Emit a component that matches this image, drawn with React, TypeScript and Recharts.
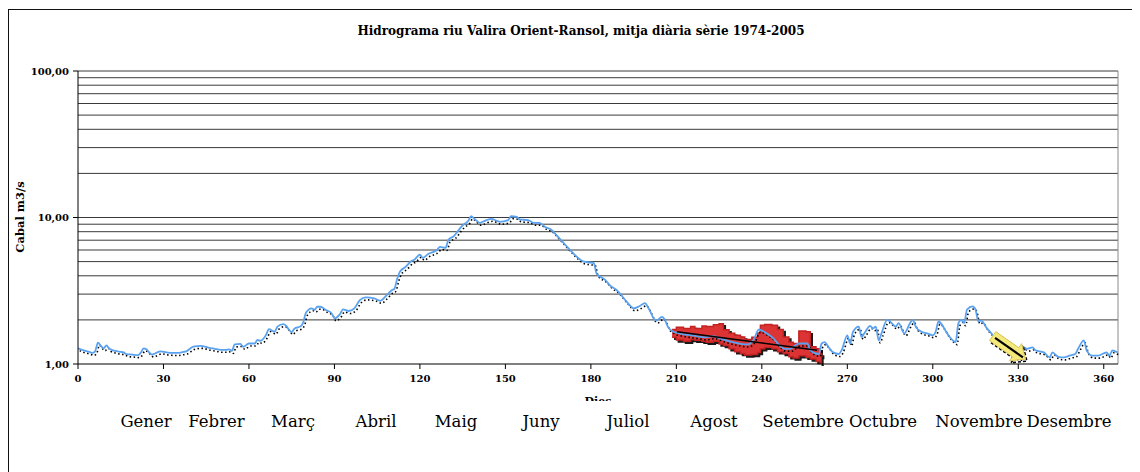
import React from 'react';
import { ComposedChart, Line, Area, XAxis, YAxis, ReferenceLine } from 'recharts';

// ---- data ----
const flowDays = [
  0, 2, 4, 5, 6, 7, 8, 9, 10, 11, 13, 15, 16, 17, 19, 21, 22, 23, 24, 25, 26, 27, 29, 31, 33, 35, 37, 38, 40, 41,
  43, 46, 48, 50, 52, 53, 54, 55, 57, 58, 60, 62, 63, 64, 66, 67, 69, 70, 72, 73, 74, 75, 76, 78, 79, 80, 82, 83, 84, 85,
  87, 89, 90, 92, 93, 95, 97, 99, 101, 104, 106, 108, 110, 111, 112, 113, 115, 117, 118, 120, 121, 123, 125, 126, 127, 129, 130, 132, 134, 135,
  137, 138, 139, 141, 142, 145, 147, 148, 151, 152, 154, 155, 158, 160, 162, 164, 166, 168, 170, 172, 174, 177, 179, 181, 182, 185, 187, 189, 191, 193,
  195, 197, 199, 200, 201, 202, 203, 205, 206, 207, 209, 211, 214, 217, 220, 223, 226, 229, 232, 235, 237, 239, 241, 244, 246, 248, 250, 252, 253, 256,
  257, 260, 261, 262, 263, 265, 267, 268, 270, 271, 272, 274, 275, 276, 278, 279, 280, 281, 282, 284, 285, 287, 288, 290, 292, 293, 294, 296, 298, 300,
  301, 302, 304, 305, 307, 308, 309, 310, 311, 312, 314, 315, 316, 317, 319, 321, 322, 324, 326, 328, 330, 331, 332, 333, 335, 336, 339, 341, 342, 344,
  346, 348, 350, 351, 353, 354, 356, 358, 361, 362, 363, 364, 365,
];
const flowValues = [
  1.28, 1.24, 1.21, 1.19, 1.22, 1.4, 1.33, 1.28, 1.34, 1.27, 1.23, 1.21, 1.2, 1.17, 1.16, 1.15, 1.19, 1.28, 1.26, 1.2, 1.16, 1.18, 1.22, 1.2, 1.19, 1.19, 1.21, 1.22, 1.3, 1.32,
  1.33, 1.29, 1.27, 1.25, 1.25, 1.26, 1.23, 1.36, 1.37, 1.31, 1.38, 1.38, 1.46, 1.44, 1.58, 1.73, 1.66, 1.8, 1.87, 1.83, 1.72, 1.65, 1.75, 1.8, 1.91, 2.24, 2.4, 2.35, 2.46, 2.46,
  2.34, 2.22, 2.05, 2.2, 2.36, 2.3, 2.4, 2.74, 2.85, 2.8, 2.7, 2.9, 3.18, 3.25, 3.8, 4.27, 4.6, 5.05, 5.15, 5.57, 5.3, 5.65, 5.85, 6.0, 6.3, 6.2, 7.05, 7.5, 8.4, 8.85,
  9.5, 10.2, 9.85, 9.2, 9.35, 9.8, 9.5, 9.35, 9.6, 10.2, 10.1, 9.7, 9.6, 9.2, 9.2, 8.6, 8.3, 7.55, 6.85, 6.2, 5.65, 5.05, 4.95, 4.9, 4.15, 3.75, 3.4, 3.2, 2.9, 2.6,
  2.4, 2.48, 2.6, 2.45, 2.25, 2.05, 1.98, 2.1, 2.0, 1.8, 1.66, 1.62, 1.58, 1.55, 1.52, 1.55, 1.48, 1.42, 1.38, 1.36, 1.45, 1.72, 1.65, 1.5, 1.35, 1.27, 1.27, 1.35, 1.38, 1.38,
  1.24, 1.17, 1.38, 1.41, 1.34, 1.2, 1.17, 1.24, 1.57, 1.38, 1.66, 1.8, 1.53, 1.62, 1.82, 1.75, 1.8, 1.45, 1.62, 2.0, 1.95, 1.8, 1.9, 1.62, 1.9, 2.0, 1.8, 1.66, 1.62, 1.57,
  1.66, 1.95, 1.75, 1.62, 1.45, 1.41, 1.9, 2.0, 1.9, 2.35, 2.47, 2.35, 1.95, 1.98, 1.75, 1.57, 1.45, 1.35, 1.25, 1.17, 1.1, 1.12, 1.3, 1.27, 1.3, 1.24, 1.2, 1.11, 1.2, 1.12,
  1.11, 1.14, 1.17, 1.27, 1.45, 1.24, 1.14, 1.14, 1.2, 1.14, 1.24, 1.22, 1.2,
];

// highlighted (red) band, drawn over the summer recession
const bandDays = [208.5, 210, 212.5, 215, 216.5, 219, 220.5, 223, 225, 226.5, 228.5, 230.5, 232.5, 234, 236.5, 238.5, 239.5, 241, 243.5, 245.5, 247.5, 249.5, 251, 253, 255.5, 257, 259, 260.5, 261];
const bandLow = [1.52, 1.46, 1.43, 1.47, 1.45, 1.43, 1.41, 1.43, 1.37, 1.34, 1.27, 1.21, 1.18, 1.15, 1.16, 1.2, 1.27, 1.3, 1.27, 1.21, 1.18, 1.12, 1.1, 1.14, 1.11, 1.08, 1.04, 1.0, 1.0];
const bandHigh = [1.72, 1.78, 1.75, 1.8, 1.75, 1.82, 1.8, 1.85, 1.88, 1.71, 1.62, 1.57, 1.53, 1.47, 1.52, 1.62, 1.84, 1.86, 1.84, 1.72, 1.53, 1.41, 1.38, 1.68, 1.66, 1.31, 1.27, 1.17, 1.11];

// trend line across the red band: [day, value]
const trendStart = [210.2, 1.66];
const trendEnd = [259.4, 1.24];
// yellow arrow: [day, value]
const arrowTail = [321, 1.55];
const arrowTip = [332.5, 1.08];

const xTicks = [0, 30, 60, 90, 120, 150, 180, 210, 240, 270, 300, 330, 360];
const yTicks = [1, 10, 100];
const gridValues = [2, 3, 4, 5, 6, 7, 8, 9, 10, 20, 30, 40, 50, 60, 70, 80, 90, 100];

const titleText = 'Hidrograma riu Valira Orient-Ransol, mitja diària sèrie 1974-2005';
const yAxisTitle = 'Cabal m3/s';
const xAxisTitle = 'Dies';
const monthLabels = ['Gener', 'Febrer', 'Març', 'Abril', 'Maig', 'Juny', 'Juliol', 'Agost', 'Setembre', 'Octubre', 'Novembre', 'Desembre'];

// ---- layout (container coordinates) ----
const monthCenters = [138, 208.5, 285, 368, 448, 533, 620, 706, 795, 875, 971, 1061];

const flowData = flowDays.map((d, i) => ({ d, q: flowValues[i] }));
const bandData = bandDays.map((d, i) => ({ d, r: [bandLow[i], bandHigh[i]] }));

const serif = 'DejaVu Serif, serif';

const ArrowShape = (props: any) => {
  const { x1, y1, x2, y2 } = props;
  if (x1 == null) return null;
  const dx = x2 - x1;
  const dy = y2 - y1;
  const len = Math.hypot(dx, dy) || 1;
  const ux = dx / len;
  const uy = dy / len;
  const nx = -uy;
  const ny = ux;
  const head = 12;
  const sw = 5.5;
  const hw = 10.5;
  const bx = x2 - ux * head;
  const by = y2 - uy * head;
  const pts = [
    [x1 + nx * sw, y1 + ny * sw],
    [bx + nx * sw, by + ny * sw],
    [bx + nx * hw, by + ny * hw],
    [x2, y2],
    [bx - nx * hw, by - ny * hw],
    [bx - nx * sw, by - ny * sw],
    [x1 - nx * sw, y1 - ny * sw],
  ];
  const str = pts.map((p) => p.join(',')).join(' ');
  const shadow = pts.map((p) => `${p[0] + 1.5},${p[1] + 2}`).join(' ');
  return (
    <g>
      <polygon points={shadow} fill="none" stroke="#000" strokeWidth={1.6} strokeDasharray="3 2" />
      <polygon points={str} fill="#f6e97c" stroke="#d8c65a" strokeWidth={1} />
      <line x1={x1 + ux * 3} y1={y1 + uy * 3} x2={x2 - ux * 3} y2={y2 - uy * 3} stroke="#000" strokeWidth={2.2} />
    </g>
  );
};

export default function App() {
  return (
    <div style={{ position: 'relative', width: 1132, height: 464 }}>
      <style>{`
        .flow-shadow { transform: translate(1.5px, 2.5px); }
        .band-shadow { transform: translate(2px, 2px); }
      `}</style>
      <div
        style={{
          position: 'absolute',
          left: 0,
          top: 1,
          width: 1140,
          height: 480,
          borderLeft: '1px solid #111',
          borderTop: '1px solid #111',
        }}
      />
      <div style={{ position: 'absolute', left: 0, top: 0 }}>
        <ComposedChart width={1132} height={400} margin={{ top: 63, right: 22, left: 0, bottom: 14 }}>
          <XAxis
            type="number"
            dataKey="d"
            domain={[0, 365]}
            ticks={xTicks}
            allowDataOverflow
            interval={0}
            height={30}
            tickSize={5}
            tickMargin={6}
            axisLine={{ stroke: '#000', strokeWidth: 1 }}
            tickLine={{ stroke: '#000' }}
            tick={{ fontFamily: serif, fontWeight: 'bold', fontSize: 10, fill: '#000' }}
          />
          <YAxis
            type="number"
            scale="log"
            domain={[1, 100]}
            ticks={yTicks}
            allowDataOverflow
            interval={0}
            width={70}
            tickSize={5}
            tickMargin={4}
            axisLine={{ stroke: '#000', strokeWidth: 1 }}
            tickLine={{ stroke: '#000' }}
            tickFormatter={(v: number) => v.toFixed(2).replace('.', ',')}
            tick={{ fontFamily: serif, fontWeight: 'bold', fontSize: 10, fill: '#000' }}
          />
          {gridValues.map((v) => (
            <ReferenceLine key={v} y={v} stroke="#3a3a3a" strokeWidth={1} />
          ))}
          <ReferenceLine x={365} stroke="#8a8a8a" strokeWidth={1} />
          <Line
            data={flowData}
            dataKey="q"
            type="monotone"
            stroke="#000"
            strokeWidth={1.6}
            strokeDasharray="1.5 2.5"
            dot={false}
            className="flow-shadow"
            isAnimationActive={false}
          />
          <Line
            data={flowData}
            dataKey="q"
            type="monotone"
            stroke="#5aa2f0"
            strokeWidth={1.8}
            dot={false}
            isAnimationActive={false}
          />
          <Area
            data={bandData}
            dataKey="r"
            type="stepAfter"
            fill="#1a1a1a"
            fillOpacity={1}
            stroke="#1a1a1a"
            strokeWidth={1.5}
            className="band-shadow"
            isAnimationActive={false}
          />
          <Area
            data={bandData}
            dataKey="r"
            type="stepAfter"
            fill="#dc3434"
            fillOpacity={1}
            stroke="#c42222"
            strokeWidth={1.5}
            isAnimationActive={false}
          />
          <ReferenceLine
            segment={[
              { x: trendStart[0], y: trendStart[1] },
              { x: trendEnd[0], y: trendEnd[1] },
            ]}
            stroke="#000"
            strokeWidth={1.6}
          />
          <ReferenceLine
            segment={[
              { x: arrowTail[0], y: arrowTail[1] },
              { x: arrowTip[0], y: arrowTip[1] },
            ]}
            shape={ArrowShape}
          />
        </ComposedChart>
      </div>
      <svg width={1132} height={464} style={{ position: 'absolute', left: 0, top: 0 }}>
        <text x={573} y={26.5} textAnchor="middle" fontFamily={serif} fontWeight="bold" fontSize={12} fill="#000">
          {titleText}
        </text>
        <text
          x={0}
          y={0}
          transform="translate(15.5,209) rotate(-90)"
          textAnchor="middle"
          fontFamily={serif}
          fontWeight="bold"
          fontSize={11.5}
          fill="#000"
        >
          {yAxisTitle}
        </text>
        <text x={590} y={396.5} textAnchor="middle" fontFamily={serif} fontWeight="bold" fontSize={11} fill="#000">
          {xAxisTitle}
        </text>
        <rect x={90} y={393} width={1030} height={50} fill="#fff" />
        {monthLabels.map((m, i) => (
          <text key={m} x={monthCenters[i]} y={419} textAnchor="middle" fontFamily={serif} fontSize={16.5} fill="#000">
            {m}
          </text>
        ))}
      </svg>
    </div>
  );
}
